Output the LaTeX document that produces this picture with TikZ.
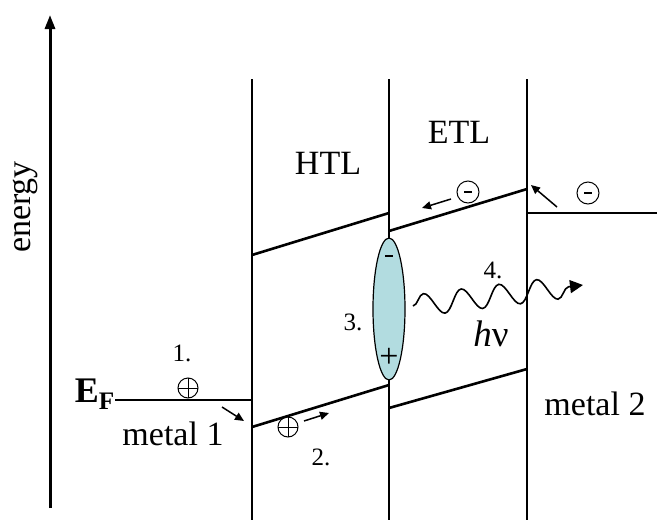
\documentclass[tikz,border=0pt]{standalone}
\usepackage{fontspec}
\setmainfont{Liberation Serif}
\usetikzlibrary{positioning, arrows.meta, shapes.geometric, decorations.pathmorphing}

\definecolor{excitonblue}{RGB}{178,220,224}

\tikzset{
  band/.style={line width=2.6pt},
  iface/.style={line width=1.3pt},
  hop/.style={-{Triangle[length=9pt,width=8pt]}, line width=1.5pt},
  bigtext/.style={font=\fontsize{34}{38}\selectfont, inner sep=0pt},
  numtext/.style={font=\fontsize{25}{27}\selectfont, inner sep=0pt},
  hole/.style={circle, draw, line width=1pt, minimum size=20pt, inner sep=0pt,
    path picture={\draw[line width=1pt] (path picture bounding box.west) -- (path picture bounding box.east)
      (path picture bounding box.north) -- (path picture bounding box.south);}},
  electron/.style={circle, draw, line width=1pt, minimum size=22pt, inner sep=0pt,
    path picture={\draw[line width=2.4pt] ([xshift=-4pt]path picture bounding box.center) -- ([xshift=4pt]path picture bounding box.center);}}
}

\begin{document}
\begin{tikzpicture}[x=1pt, y=-1pt, >=Latex]
    \useasboundingbox (0,0) rectangle (657,520);

    % energy axis
    \coordinate (ebot) at (50,508);
    \coordinate (etop) at (50,15);
    \draw[line width=3pt, -{Triangle[length=14pt,width=10pt]}] (ebot) -- (etop);
    \node (energy) [bigtext, rotate=90] at (25,207) {energy};

    % interfaces
    \draw[iface] (252,79) -- (252,520);
    \draw[iface] (389,79) -- (389,520);
    \draw[iface] (527,79) -- (527,520);

    % levels
    \draw[band] (115,400) -- (252,400);
    \draw[band] (252,255) -- (389,213);
    \draw[band] (252,427) -- (389,385);
    \draw[band] (389,231) -- (527,189);
    \draw[band] (389,408) -- (527,369);
    \draw[band] (527,213) -- (657,213);

    % labels
    \node (ef) [font=\fontsize{36}{38}\selectfont\bfseries, inner sep=0pt, anchor=base east] at (115,402) {E\textsubscript{F}};
    \node (m1) [bigtext, anchor=base] at (173,445) {metal 1};
    \node (m2) [bigtext, anchor=base] at (595,415) {metal 2};
    \node (htl) [bigtext] at (328,163) {HTL};
    \node (etl) [bigtext] at (459,132) {ETL};

    % exciton
    \node (exciton) [ellipse, draw, line width=1.2pt, fill=excitonblue, minimum width=32pt, minimum height=142pt, inner sep=0pt] at (389,309) {};
    \draw[line width=2.2pt] (385,256) -- (393,256);
    \node (plus) [font=\fontsize{34}{36}\selectfont, inner sep=0pt] at (389,358) {+};

    % charges
    \node (h1) [hole] at (188,388) {};
    \node (h2) [hole] at (288,427) {};
    \node (e1) [electron] at (468,192) {};
    \node (e2) [electron] at (588,193) {};
    \draw[hop] (222,407) -- (244,421);
    \draw[hop] (304,421) -- (329,413);
    \draw[hop] (451,199) -- (422,208);
    \draw[hop] (557,207) -- (531,185);

    % steps
    \node (s1) [numtext] at (182,353) {1.};
    \node (s2) [numtext] at (321,457) {2.};
    \node (s3) [numtext] at (353,322) {3.};
    \node (s4) [numtext] at (493,270) {4.};

    % photon
    \coordinate (ph0) at (413,306);
    \coordinate (ph1) at (583,285);
    \draw[line width=1.6pt, -{Triangle[length=13pt,width=13pt]}, decorate,
      decoration={snake, amplitude=11pt, segment length=38pt, post length=6pt}] (ph0) -- (ph1);
    \node (hnu) [font=\fontsize{37}{40}\selectfont, inner sep=0pt] at (491,334) {\textit{h}ν};
\end{tikzpicture}
\end{document}
